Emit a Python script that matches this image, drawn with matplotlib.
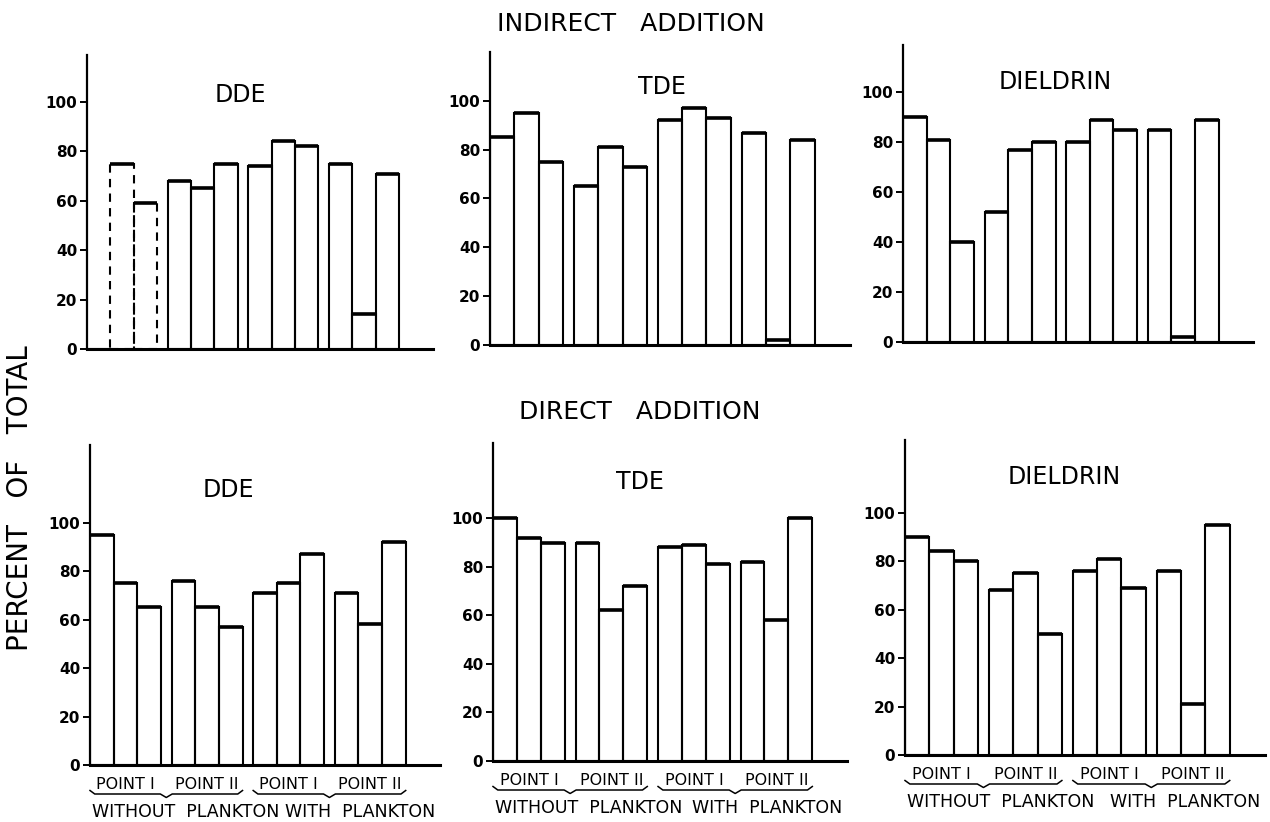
import numpy as np
import matplotlib
matplotlib.use("Agg")
import matplotlib.pyplot as plt
from matplotlib.transforms import blended_transform_factory

# percent of total, 12 bars per panel (4 groups of 3)
top_dde = [np.nan, 75, 59, 68, 65, 75, 74, 84, 82, 75, 14, 71]
top_tde = [85, 95, 75, 65, 81, 73, 92, 97, 93, 87, 2, 84]
top_dieldrin = [90, 81, 40, 52, 77, 80, 80, 89, 85, 85, 2, 89]
bot_dde = [95, 75, 65, 76, 65, 57, 71, 75, 87, 71, 58, 92]
bot_tde = [100, 92, 90, 90, 62, 72, 88, 89, 81, 82, 58, 100]
bot_dieldrin = [90, 84, 80, 68, 75, 50, 76, 81, 69, 76, 21, 95]

compounds = ["DDE", "TDE", "DIELDRIN"]
group_labels = ["POINT I", "POINT II", "POINT I", "POINT II"]
yticks = [0, 20, 40, 60, 80, 100]

W, H = 1270, 822
GAP = 3.45  # group pitch in bar widths

fig = plt.figure(figsize=(W / 100, H / 100), dpi=100)
fig.patch.set_facecolor("white")

def px_rect(left, right, y0, ytop):
    return [left / W, 1 - y0 / H, (right - left) / W, (y0 - ytop) / H]

# axes rectangles in pixels: left, right, y of 0 line, top of y axis
panels = [
    (top_dde, px_rect(87, 433, 349, 55), 119, (240, 95), [1, 2], False),
    (top_tde, px_rect(490, 850, 345, 52), 120, (662, 87), [], False),
    (top_dieldrin, px_rect(903, 1253, 342, 45), 119, (1055, 82), [], False),
    (bot_dde, px_rect(90, 440, 765, 445), 132, (228, 490), [], True),
    (bot_tde, px_rect(493, 847, 761, 443), 131, (640, 482), [], True),
    (bot_dieldrin, px_rect(905, 1265, 755, 440), 130, (1064, 477), [], True),
]

for k, (vals, rect, ytop, tpos, dashed, bottom) in enumerate(panels):
    ax = fig.add_axes(rect)
    vals = np.array(vals, dtype=float)
    x = np.array([g * GAP + i + 0.5 for g in range(4) for i in range(3)])
    bars = ax.bar(x, np.nan_to_num(vals), width=1.0, fill=False,
                  edgecolor="black", linewidth=1.5)
    for i in dashed:
        bars[i].set_linestyle((0, (4, 3)))
    ok = ~np.isnan(vals)
    ax.hlines(vals[ok], x[ok] - 0.5, x[ok] + 0.5, colors="black", linewidth=2.6)
    ax.set_xlim(0, 14.8)
    ax.set_ylim(0, ytop)
    for s in ["top", "right"]:
        ax.spines[s].set_visible(False)
    ax.spines["left"].set_linewidth(1.6)
    ax.spines["bottom"].set_linewidth(2.2)
    ax.set_xticks([])
    ax.set_yticks(yticks)
    ax.tick_params(axis="y", direction="out", length=5, width=1.4, pad=2,
                   labelsize=11)
    for lab in ax.get_yticklabels():
        lab.set_fontweight("bold")
    fig.text(tpos[0] / W, 1 - tpos[1] / H, compounds[k % 3], fontsize=17,
             ha="center", va="center")

    if bottom:
        trans = blended_transform_factory(ax.transData, ax.transAxes)
        hpx = rect[3] * H
        y1 = -19 / hpx
        yb = -29 / hpx
        y2 = -47 / hpx
        d = 3.5 / hpx
        for g in range(4):
            ax.text(g * GAP + 1.5, y1, group_labels[g], transform=trans,
                    fontsize=11.5, ha="center", va="center", clip_on=False)
        for j in range(2):
            x0 = 2 * j * GAP
            x1 = x0 + GAP + 3
            xm = (x0 + x1) / 2
            bx = [x0, x0 + 0.2, xm - 0.25, xm, xm + 0.25, x1 - 0.2, x1]
            by = [yb + d, yb, yb, yb - d, yb, yb, yb + d]
            ax.plot(bx, by, color="black", lw=1.1, transform=trans,
                    clip_on=False)
        ax.text(0.1, y2, "WITHOUT  PLANKTON", transform=trans,
                fontsize=12.5, ha="left", va="center", clip_on=False)
        ax.text(14.6, y2, "WITH  PLANKTON", transform=trans,
                fontsize=12.5, ha="right", va="center", clip_on=False)

fig.text(631 / W, 1 - 24 / H, "INDIRECT   ADDITION", fontsize=18,
         ha="center", va="center")
fig.text(640 / W, 1 - 412 / H, "DIRECT   ADDITION", fontsize=18,
         ha="center", va="center")
fig.text(20 / W, 1 - 498 / H, "PERCENT   OF   TOTAL", fontsize=20,
         rotation=90, ha="center", va="center")

fig.savefig("out.png", dpi=100, facecolor="white")
